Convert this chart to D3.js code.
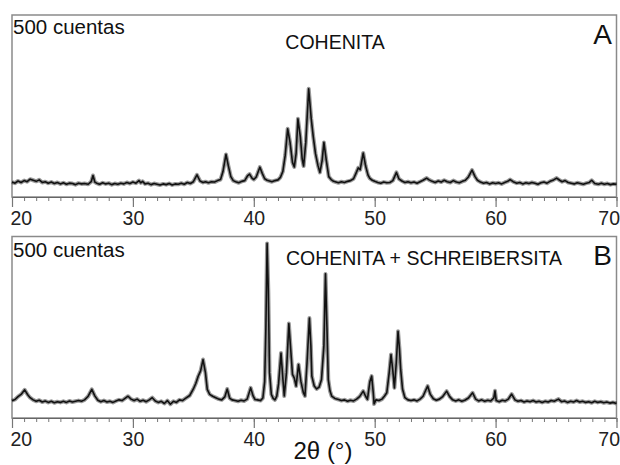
<!DOCTYPE html>
<html>
<head>
  <meta charset="utf-8">
  <title>Difractogramas cohenita</title>
  <script src="https://d3js.org/d3.v7.min.js"></script>
  <style>
    body { margin: 0; background: #fff; }
    text { font-family: "Liberation Sans", Arial, sans-serif; fill: #111; }
    .axis .domain { stroke: #666; stroke-width: 1.2; }
    .axis line { stroke: #777; }
    .axis text { font-size: 19.5px; fill: #222; }
  </style>
</head>
<body>
<svg id="xrd" width="620" height="465"></svg>

<script>
  const majorTicks = [20, 30, 40, 50, 60, 70];
  const minorTicks = d3.range(20, 71, 1);

  const panelLabels = ["A", "B"];
  const panelTitles = ["COHENITA", "COHENITA + SCHREIBERSITA"];
  const scaleLabel = "500 cuentas";

  const cohenita = [
    [20.0, 82], [20.25, 76], [20.5, 88], [20.75, 80], [21.0, 90], [21.25, 84], [21.5, 98], [21.75, 92],
    [22.0, 86], [22.25, 94], [22.5, 80], [22.75, 84], [23.0, 76], [23.25, 82], [23.5, 74], [23.75, 80],
    [24.0, 72], [24.25, 78], [24.5, 70], [24.75, 76], [25.0, 74], [25.25, 68], [25.5, 76], [25.75, 72],
    [26.0, 74], [26.3, 70], [26.55, 84], [26.7, 118], [26.85, 82], [27.0, 76], [27.25, 70], [27.5, 78],
    [27.75, 72], [28.0, 76], [28.25, 68], [28.5, 74], [28.75, 70], [29.0, 76], [29.25, 72], [29.5, 80],
    [29.75, 74], [30.0, 82], [30.25, 76], [30.5, 90], [30.65, 78], [30.8, 86], [31.0, 72], [31.25, 76],
    [31.5, 68], [31.75, 74], [32.0, 70], [32.25, 66], [32.5, 72], [32.75, 68], [33.0, 74], [33.25, 66],
    [33.5, 72], [33.75, 70], [34.0, 76], [34.25, 70], [34.5, 80], [34.75, 74], [35.0, 84], [35.3, 122],
    [35.55, 88], [35.8, 80], [36.0, 84], [36.25, 78], [36.5, 84], [36.75, 82], [37.0, 90], [37.25, 96],
    [37.45, 140], [37.7, 234], [37.9, 170], [38.1, 112], [38.3, 90], [38.5, 84], [38.75, 78], [39.0, 86],
    [39.25, 90], [39.5, 118], [39.65, 126], [39.85, 104], [40.0, 96], [40.2, 110], [40.5, 164], [40.7, 130],
    [40.9, 100], [41.1, 92], [41.3, 88], [41.5, 84], [41.75, 90], [42.0, 94], [42.2, 108], [42.4, 140],
    [42.6, 230], [42.8, 375], [43.0, 300], [43.2, 190], [43.35, 165], [43.5, 240], [43.65, 430], [43.85, 330],
    [44.0, 210], [44.12, 170], [44.3, 300], [44.54, 595], [44.75, 430], [44.92, 330], [45.1, 240], [45.3, 175],
    [45.47, 135], [45.65, 200], [45.8, 300], [46.0, 200], [46.2, 112], [46.4, 96], [46.6, 86], [46.8, 82],
    [47.0, 78], [47.25, 84], [47.5, 80], [47.75, 86], [48.0, 90], [48.25, 100], [48.45, 130], [48.64, 160],
    [48.8, 150], [49.05, 242], [49.25, 170], [49.45, 120], [49.6, 102], [49.8, 92], [50.0, 86], [50.25, 80],
    [50.5, 76], [50.75, 82], [51.0, 78], [51.25, 80], [51.5, 90], [51.8, 135], [52.0, 100], [52.25, 88],
    [52.5, 80], [52.75, 84], [53.0, 78], [53.25, 82], [53.5, 76], [53.75, 84], [54.0, 92], [54.3, 104],
    [54.5, 94], [54.75, 86], [55.0, 80], [55.25, 88], [55.5, 82], [55.75, 92], [56.0, 84], [56.25, 80],
    [56.5, 90], [56.75, 82], [57.0, 78], [57.25, 86], [57.5, 92], [57.75, 110], [58.05, 148], [58.3, 112],
    [58.5, 92], [58.75, 82], [59.0, 76], [59.25, 80], [59.5, 72], [59.75, 78], [60.0, 74], [60.25, 78],
    [60.5, 72], [60.75, 80], [61.0, 86], [61.2, 96], [61.45, 84], [61.75, 76], [62.0, 80], [62.25, 72],
    [62.5, 78], [62.75, 74], [63.0, 80], [63.25, 76], [63.5, 70], [63.75, 78], [64.0, 82], [64.25, 76],
    [64.5, 86], [64.8, 94], [65.05, 104], [65.3, 92], [65.5, 84], [65.75, 90], [66.0, 80], [66.25, 76],
    [66.5, 72], [66.75, 78], [67.0, 74], [67.25, 70], [67.5, 76], [67.75, 80], [67.95, 92], [68.2, 74],
    [68.5, 70], [68.75, 76], [69.0, 70], [69.25, 74], [69.5, 68], [69.75, 72], [70.0, 70]
  ];

  const cohenitaSchreib = [
    [20.0, 95], [20.25, 102], [20.5, 118], [20.75, 130], [21.05, 155], [21.3, 128], [21.5, 112], [21.75, 100],
    [22.0, 92], [22.25, 98], [22.5, 88], [22.75, 94], [23.0, 86], [23.25, 92], [23.5, 84], [23.75, 90],
    [24.0, 86], [24.25, 92], [24.5, 86], [24.75, 94], [25.0, 88], [25.25, 92], [25.5, 96], [25.75, 92],
    [26.0, 100], [26.3, 120], [26.6, 158], [26.85, 122], [27.1, 98], [27.35, 90], [27.6, 96], [27.85, 88],
    [28.1, 92], [28.35, 86], [28.6, 94], [28.85, 100], [29.1, 96], [29.35, 108], [29.6, 120], [29.85, 104],
    [30.1, 96], [30.35, 104], [30.6, 92], [30.85, 98], [31.1, 90], [31.35, 100], [31.6, 112], [31.85, 94],
    [32.1, 86], [32.35, 92], [32.6, 80], [32.85, 96], [33.1, 76], [33.35, 92], [33.6, 86], [33.85, 100],
    [34.1, 96], [34.35, 108], [34.7, 124], [35.0, 160], [35.2, 190], [35.4, 230], [35.6, 260], [35.8, 322],
    [36.0, 250], [36.15, 158], [36.35, 130], [36.6, 120], [36.85, 112], [37.1, 104], [37.35, 100], [37.6, 116],
    [37.8, 160], [38.0, 110], [38.2, 100], [38.45, 96], [38.7, 92], [38.95, 98], [39.2, 94], [39.45, 104],
    [39.74, 166], [39.95, 120], [40.1, 102], [40.3, 100], [40.55, 96], [40.75, 110], [40.9, 200], [41.0, 500],
    [41.1, 962], [41.2, 700], [41.3, 250], [41.45, 130], [41.6, 108], [41.75, 100], [41.9, 120], [42.05, 190],
    [42.25, 358], [42.4, 220], [42.52, 121], [42.7, 250], [42.9, 520], [43.05, 380], [43.2, 240], [43.35, 220],
    [43.5, 176], [43.7, 295], [43.9, 200], [44.1, 140], [44.23, 121], [44.4, 300], [44.6, 551], [44.72, 400],
    [44.8, 231], [45.0, 176], [45.2, 160], [45.4, 170], [45.6, 212], [45.8, 400], [45.93, 794], [46.05, 500],
    [46.16, 212], [46.3, 150], [46.44, 121], [46.7, 108], [47.0, 102], [47.25, 96], [47.5, 100], [47.75, 92],
    [48.0, 98], [48.25, 94], [48.5, 104], [48.75, 118], [49.05, 148], [49.25, 120], [49.4, 103], [49.6, 200],
    [49.75, 231], [49.88, 140], [49.95, 77], [50.1, 100], [50.35, 96], [50.6, 104], [50.8, 120], [51.0, 139],
    [51.2, 250], [51.35, 350], [51.5, 260], [51.63, 166], [51.78, 300], [51.93, 478], [52.05, 380], [52.15, 267],
    [52.3, 160], [52.5, 112], [52.75, 100], [53.0, 96], [53.25, 100], [53.5, 94], [53.75, 104], [54.0, 120],
    [54.2, 150], [54.38, 176], [54.6, 130], [54.85, 106], [55.1, 98], [55.35, 104], [55.6, 116], [55.95, 148],
    [56.2, 118], [56.45, 100], [56.7, 94], [56.95, 100], [57.2, 92], [57.45, 98], [57.75, 110], [58.1, 139],
    [58.35, 104], [58.6, 94], [58.85, 100], [59.1, 92], [59.35, 98], [59.6, 94], [59.85, 110], [59.95, 150],
    [60.05, 96], [60.3, 90], [60.55, 98], [60.8, 94], [61.05, 104], [61.33, 132], [61.6, 100], [61.85, 92],
    [62.1, 96], [62.35, 88], [62.6, 94], [62.85, 90], [63.1, 96], [63.35, 88], [63.6, 92], [63.85, 86],
    [64.1, 92], [64.35, 88], [64.6, 96], [64.85, 92], [65.2, 104], [65.45, 90], [65.7, 94], [65.95, 86],
    [66.2, 92], [66.45, 88], [66.7, 96], [66.95, 88], [67.2, 92], [67.45, 86], [67.7, 90], [67.95, 84],
    [68.2, 92], [68.45, 86], [68.7, 90], [68.95, 84], [69.2, 88], [69.45, 82], [69.7, 86], [70.0, 80]
  ];

  const svg = d3.select("#xrd");

  // geometria de los dos paneles
  const left = 12, right = 616.5;
  const panels = [
    {top: 15, bottom: 197, data: cohenita, label: panelLabels[0], title: panelTitles[0],
     titleX: 335, titleY: 49, countsY: 33.5, letterY: 44},
    {top: 236.5, bottom: 418, data: cohenitaSchreib, label: panelLabels[1], title: panelTitles[1],
     titleX: 424, titleY: 264.5, countsY: 257, letterY: 265}
  ];

  const xScale = d3.scaleLinear().domain([20, 70]).range([left, right]);

  panels.forEach(p => {
    const yScale = d3.scaleLinear().domain([0, 1000]).range([p.bottom, p.top]);

    // marco gris
    svg.append("rect")
      .attr("x", left).attr("y", p.top)
      .attr("width", right - left).attr("height", p.bottom - p.top)
      .attr("fill", "none")
      .attr("stroke", "#8a8a8a")
      .attr("stroke-width", 1.5);

    // curva: trazo difuso + trazo fino
    const line = d3.line()
      .x(d => xScale(d[0]))
      .y(d => yScale(d[1]));

    svg.append("path")
      .datum(p.data)
      .attr("d", line)
      .attr("fill", "none")
      .attr("stroke", "rgba(0,0,0,0.4)")
      .attr("stroke-width", 4)
      .attr("stroke-linejoin", "round");

    svg.append("path")
      .datum(p.data)
      .attr("d", line)
      .attr("fill", "none")
      .attr("stroke", "#111")
      .attr("stroke-width", 1.6)
      .attr("stroke-linejoin", "round");

    // eje x: ticks menores y mayores
    svg.append("g")
      .attr("class", "axis")
      .attr("transform", `translate(0, ${p.bottom})`)
      .call(d3.axisBottom(xScale).tickValues(minorTicks).tickSize(4).tickSizeOuter(0).tickFormat(""));

    const ax = svg.append("g")
      .attr("class", "axis")
      .attr("transform", `translate(0, ${p.bottom})`)
      .call(d3.axisBottom(xScale).tickValues(majorTicks).tickSize(10).tickSizeOuter(0).tickPadding(4.5));

    ax.selectAll(".tick line").attr("stroke", "#666").attr("stroke-width", 1.2);
    ax.selectAll(".tick text").filter(d => d === 20)
      .attr("text-anchor", "start").attr("x", -2);
    ax.selectAll(".tick text").filter(d => d === 70)
      .attr("text-anchor", "end").attr("x", 3);

    // textos del panel
    svg.append("text")
      .attr("x", 13).attr("y", p.countsY)
      .style("font-size", "20.5px")
      .text(scaleLabel);

    svg.append("text")
      .attr("x", p.titleX).attr("y", p.titleY)
      .attr("text-anchor", "middle")
      .style("font-size", "19.5px")
      .text(p.title);

    svg.append("text")
      .attr("x", 612).attr("y", p.letterY)
      .attr("text-anchor", "end")
      .style("font-size", "28px")
      .text(p.label);
  });

  // titulo del eje
  svg.append("text")
    .attr("x", 323).attr("y", 459)
    .attr("text-anchor", "middle")
    .style("font-size", "24px")
    .text("2θ (°)");
</script>
</body>
</html>
